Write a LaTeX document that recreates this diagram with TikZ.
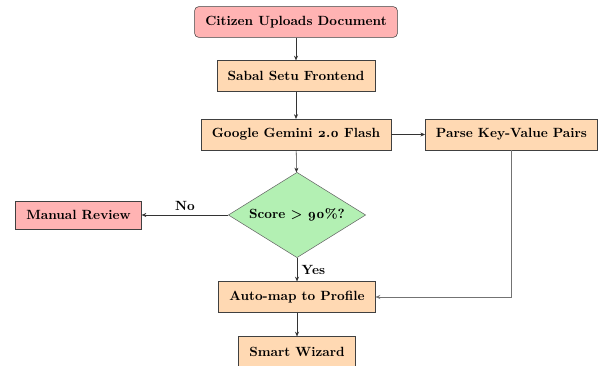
\documentclass[tikz,border=0pt]{standalone}
\usepackage{fontspec}
\setmainfont{Latin Modern Roman}[Numbers=OldStyle]
\usepackage{tikz}
\usetikzlibrary{shapes.geometric,arrows.meta}
\definecolor{pinkfill}{HTML}{FFB3B3}
\definecolor{peachfill}{HTML}{FFD9B3}
\definecolor{greenfill}{HTML}{B3F0B3}

\begin{document}
\begin{tikzpicture}[
    x=0.75pt, y=-0.75pt,
    font=\bfseries,
    box/.style={draw=black!75, fill=peachfill, minimum height=23pt, inner xsep=8pt},
    startbox/.style={box, fill=pinkfill, rounded corners=3pt},
    alertbox/.style={box, fill=pinkfill, minimum height=21pt},
    decision/.style={diamond, draw=black!60, fill=greenfill, aspect=1.6, inner sep=1pt,
      minimum width=103pt, minimum height=64pt},
    flow/.style={draw=black!80, -{Stealth[length=3.5pt,width=3pt]}}
    ]
    \useasboundingbox (0,0) rectangle (602,366);
    \node[startbox] (upload) at (296,22) {Citizen Uploads Document};
    \node[box] (frontend) at (296,76) {Sabal Setu Frontend};
    \node[box] (gemini) at (296,134.5) {Google Gemini 2.0 Flash};
    \node[box] (parse) at (511.5,134.5) {Parse Key-Value Pairs};
    \node[decision] (score) at (297,215) {Score > 90\%?};
    \node[alertbox] (manual) at (78.5,215) {Manual Review};
    \node[box] (automap) at (297,297) {Auto-map to Profile};
    \node[box] (wizard) at (297,352) {Smart Wizard};
    \draw[flow] (upload) -- (frontend);
    \draw[flow] (frontend) -- (gemini);
    \draw[flow] (gemini) -- (parse);
    \draw[flow] (gemini) -- (score);
    \draw[flow] (score) -- (manual) node[midway,above] {No};
    \draw[flow] (score) -- (automap) node[midway,right] {Yes};
    \draw[flow, draw=black!55] (parse) |- (automap);
    \draw[flow] (automap) -- (wizard);
  \end{tikzpicture}
\end{document}
